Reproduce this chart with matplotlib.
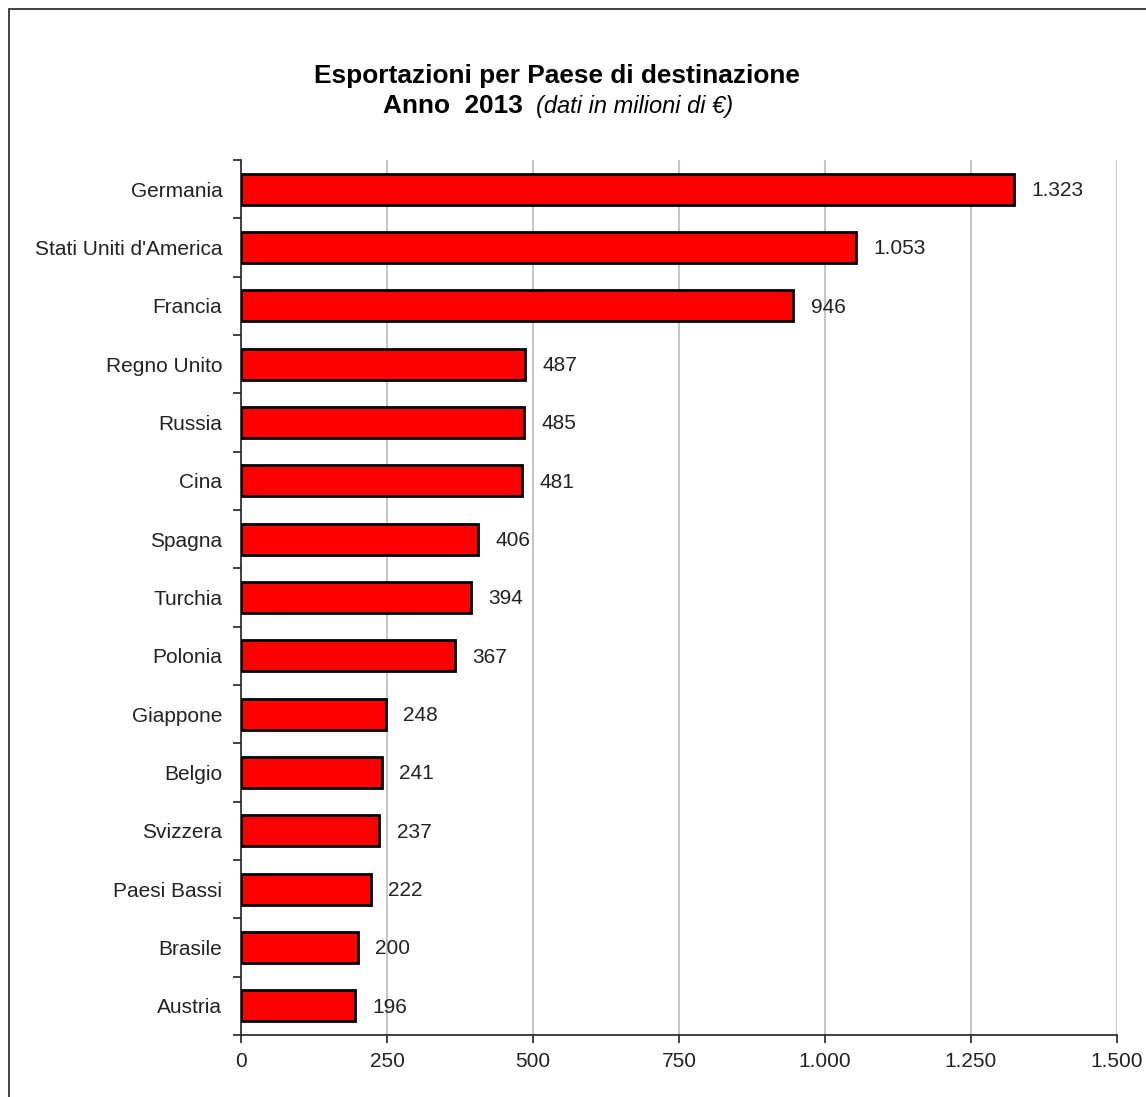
import numpy as np
import matplotlib.pyplot as plt
from matplotlib.patches import Rectangle

plt.rcParams['font.family'] = ['Liberation Sans', 'DejaVu Sans']

paesi = ['Germania', "Stati Uniti d'America", 'Francia', 'Regno Unito', 'Russia',
         'Cina', 'Spagna', 'Turchia', 'Polonia', 'Giappone', 'Belgio',
         'Svizzera', 'Paesi Bassi', 'Brasile', 'Austria']
valori = [1323, 1053, 946, 487, 485, 481, 406, 394, 367, 248, 241, 237, 222, 200, 196]
xticks = [0, 250, 500, 750, 1000, 1250, 1500]


def fmt_it(v):
    # separatore delle migliaia con il punto
    return '{:,}'.format(int(v)).replace(',', '.')


fig = plt.figure(figsize=(11.46, 10.97), dpi=100)
fig.patches.append(Rectangle((9 / 1146, -0.01), 1.1, 1 - 9 / 1097 + 0.01,
                             transform=fig.transFigure, fill=False,
                             edgecolor='#222222', linewidth=1.2))

ax = fig.add_axes([241 / 1146, 62 / 1097, 876 / 1146, 875 / 1097])
y = np.arange(len(paesi))
ax.barh(y, valori, height=0.53, color='#ff0000', edgecolor='black',
        linewidth=2, zorder=3)

for yi, v in zip(y, valori):
    ax.annotate(fmt_it(v), (v, yi), xytext=(12.5, -1), textcoords='offset points',
                ha='left', va='center', fontsize=15, color='#222222')

ax.set_xlim(0, 1500)
ax.set_ylim(len(paesi) - 0.5, -0.5)
ax.set_xticks(xticks)
ax.set_xticklabels([fmt_it(t) for t in xticks], fontsize=15, color='#222222')

# etichette al centro, tacche sui confini tra le categorie
ax.set_yticks(np.arange(len(paesi) + 1) - 0.5)
ax.set_yticklabels([])
ax.set_yticks(y, minor=True)
ax.set_yticklabels(paesi, minor=True, fontsize=15, color='#222222')
ax.tick_params(axis='y', which='minor', length=0, pad=13.5)
ax.tick_params(axis='y', which='major', length=6, width=1.2, color='#222222')
ax.tick_params(axis='x', length=6, width=1.2, color='#222222', pad=6)

ax.grid(axis='x', color='#c0c0c0', linewidth=1.3, zorder=0)
ax.set_axisbelow(True)
for s in ['top', 'right']:
    ax.spines[s].set_visible(False)
for s in ['left', 'bottom']:
    ax.spines[s].set_linewidth(1.2)
    ax.spines[s].set_color('#222222')

fig.text(557 / 1146, 1 - 76 / 1097, 'Esportazioni per Paese di destinazione',
         ha='center', va='center', fontsize=18.9, fontweight='bold')
fig.text(523 / 1146, 1 - 106 / 1097, 'Anno  2013', ha='right', va='center',
         fontsize=18.9, fontweight='bold')
fig.text(536 / 1146, 1 - 106 / 1097, '(dati in milioni di €)', ha='left',
         va='center', fontsize=17, style='italic')

fig.savefig('out.png', dpi=100)
